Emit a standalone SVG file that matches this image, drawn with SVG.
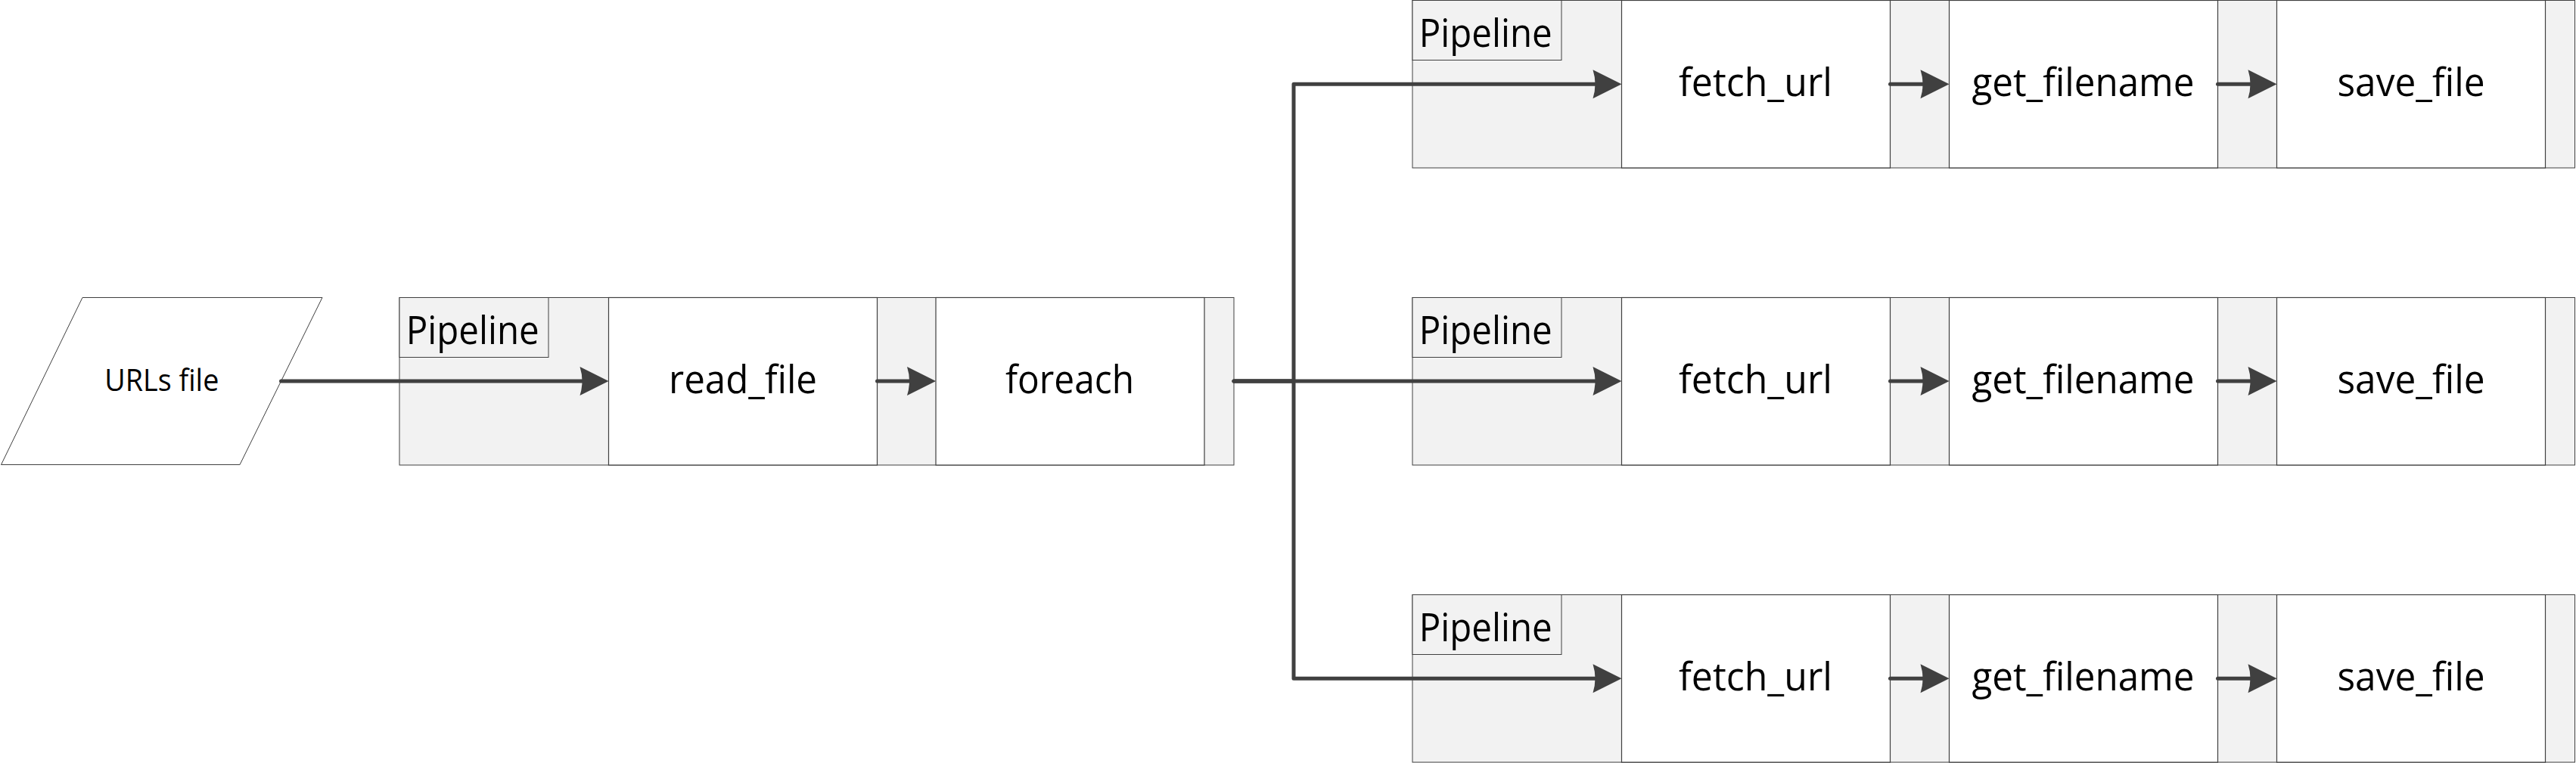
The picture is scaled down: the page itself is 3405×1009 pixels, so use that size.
<svg xmlns="http://www.w3.org/2000/svg" width="3405" height="1009" viewBox="0 0 3405 1009">
  <style>
    .bg { fill: #ffffff; }
    .container { fill: #f2f2f2; stroke: #404040; stroke-width: 1; }
    .label { fill: #f2f2f2; stroke: #404040; stroke-width: 1; }
    .box { fill: #ffffff; stroke: #404040; stroke-width: 1.2; }
    .io { fill: #ffffff; stroke: #404040; stroke-width: 1; }
    .t { font-family: "Open Sans", "Liberation Sans", sans-serif; font-size: 51px; fill: #000000; }
    .tm { text-anchor: middle; }
    .ts { font-size: 40px; }
    .conn { fill: none; stroke: #404040; stroke-width: 5; stroke-linecap: round; stroke-linejoin: round; }
  </style>
  <defs>
    <marker id="arrow" markerUnits="userSpaceOnUse" orient="auto" refX="8" refY="0" markerWidth="40" markerHeight="40" overflow="visible">
      <path d="M0,-19 L38,0 L0,19 Q6,0 0,-19 Z" fill="#404040"/>
    </marker>
  </defs>
  <rect class="bg" x="0" y="0" width="3405" height="1009"/>

  <g id="urls-file">
    <polygon class="io" points="109,393.5 426,393.5 317,614.5 1.5,614.5"/>
    <text class="t ts tm" x="213.8" y="517.3" textLength="151" lengthAdjust="spacingAndGlyphs">URLs file</text>
  </g>

  <g id="pipeline-main">
    <rect class="container" x="528" y="393.5" width="1103" height="221.5"/>
    <rect class="label" x="528" y="393.5" width="197" height="79"/>
    <text class="t" x="536.7" y="454.5" textLength="176" lengthAdjust="spacingAndGlyphs">Pipeline</text>
    <g id="read-file">
      <rect class="box" x="804.5" y="393.5" width="355" height="221.5"/>
      <text class="t tm" x="982" y="520" textLength="196" lengthAdjust="spacingAndGlyphs">read_file</text>
    </g>
    <g id="foreach">
      <rect class="box" x="1237" y="393.5" width="355" height="221.5"/>
      <text class="t tm" x="1414" y="520" textLength="170" lengthAdjust="spacingAndGlyphs">foreach</text>
    </g>
  </g>

  <g id="pipeline-1">
    <rect class="container" x="1867" y="0.5" width="1536.5" height="221.5"/>
    <rect class="label" x="1867" y="0.5" width="197" height="79"/>
    <text class="t" x="1875.7" y="61.5" textLength="176" lengthAdjust="spacingAndGlyphs">Pipeline</text>
    <g id="fetch-url-1">
      <rect class="box" x="2143.5" y="0.5" width="355" height="221.5"/>
      <text class="t tm" x="2320.5" y="127.3" textLength="203" lengthAdjust="spacingAndGlyphs">fetch_url</text>
    </g>
    <g id="get-filename-1">
      <rect class="box" x="2576.5" y="0.5" width="355" height="221.5"/>
      <text class="t tm" x="2753.5" y="127.3" textLength="294" lengthAdjust="spacingAndGlyphs">get_filename</text>
    </g>
    <g id="save-file-1">
      <rect class="box" x="3009.5" y="0.5" width="355" height="221.5"/>
      <text class="t tm" x="3187" y="127.3" textLength="195" lengthAdjust="spacingAndGlyphs">save_file</text>
    </g>
  </g>

  <g id="pipeline-2">
    <rect class="container" x="1867" y="393.5" width="1536.5" height="221.5"/>
    <rect class="label" x="1867" y="393.5" width="197" height="79"/>
    <text class="t" x="1875.7" y="454.5" textLength="176" lengthAdjust="spacingAndGlyphs">Pipeline</text>
    <g id="fetch-url-2">
      <rect class="box" x="2143.5" y="393.5" width="355" height="221.5"/>
      <text class="t tm" x="2320.5" y="520" textLength="203" lengthAdjust="spacingAndGlyphs">fetch_url</text>
    </g>
    <g id="get-filename-2">
      <rect class="box" x="2576.5" y="393.5" width="355" height="221.5"/>
      <text class="t tm" x="2753.5" y="520" textLength="294" lengthAdjust="spacingAndGlyphs">get_filename</text>
    </g>
    <g id="save-file-2">
      <rect class="box" x="3009.5" y="393.5" width="355" height="221.5"/>
      <text class="t tm" x="3187" y="520" textLength="195" lengthAdjust="spacingAndGlyphs">save_file</text>
    </g>
  </g>

  <g id="pipeline-3">
    <rect class="container" x="1867" y="786.5" width="1536.5" height="221.5"/>
    <rect class="label" x="1867" y="786.5" width="197" height="79"/>
    <text class="t" x="1875.7" y="847.5" textLength="176" lengthAdjust="spacingAndGlyphs">Pipeline</text>
    <g id="fetch-url-3">
      <rect class="box" x="2143.5" y="786.5" width="355" height="221.5"/>
      <text class="t tm" x="2320.5" y="913" textLength="203" lengthAdjust="spacingAndGlyphs">fetch_url</text>
    </g>
    <g id="get-filename-3">
      <rect class="box" x="2576.5" y="786.5" width="355" height="221.5"/>
      <text class="t tm" x="2753.5" y="913" textLength="294" lengthAdjust="spacingAndGlyphs">get_filename</text>
    </g>
    <g id="save-file-3">
      <rect class="box" x="3009.5" y="786.5" width="355" height="221.5"/>
      <text class="t tm" x="3187" y="913" textLength="195" lengthAdjust="spacingAndGlyphs">save_file</text>
    </g>
  </g>

  <g id="connectors">
    <path class="conn" d="M371.5,504 H774.5" marker-end="url(#arrow)"/>
    <path class="conn" d="M1159.5,504 H1207" marker-end="url(#arrow)"/>
    <path class="conn" d="M1631,504 H1710 V111.3 H2113.5" marker-end="url(#arrow)"/>
    <path class="conn" d="M1631,504 H2113.5" marker-end="url(#arrow)"/>
    <path class="conn" d="M1631,504 H1710 V897.3 H2113.5" marker-end="url(#arrow)"/>
    <path class="conn" d="M2498.5,111.3 H2546.5" marker-end="url(#arrow)"/>
    <path class="conn" d="M2931.5,111.3 H2979.5" marker-end="url(#arrow)"/>
    <path class="conn" d="M2498.5,504 H2546.5" marker-end="url(#arrow)"/>
    <path class="conn" d="M2931.5,504 H2979.5" marker-end="url(#arrow)"/>
    <path class="conn" d="M2498.5,897.3 H2546.5" marker-end="url(#arrow)"/>
    <path class="conn" d="M2931.5,897.3 H2979.5" marker-end="url(#arrow)"/>
  </g>
</svg>
